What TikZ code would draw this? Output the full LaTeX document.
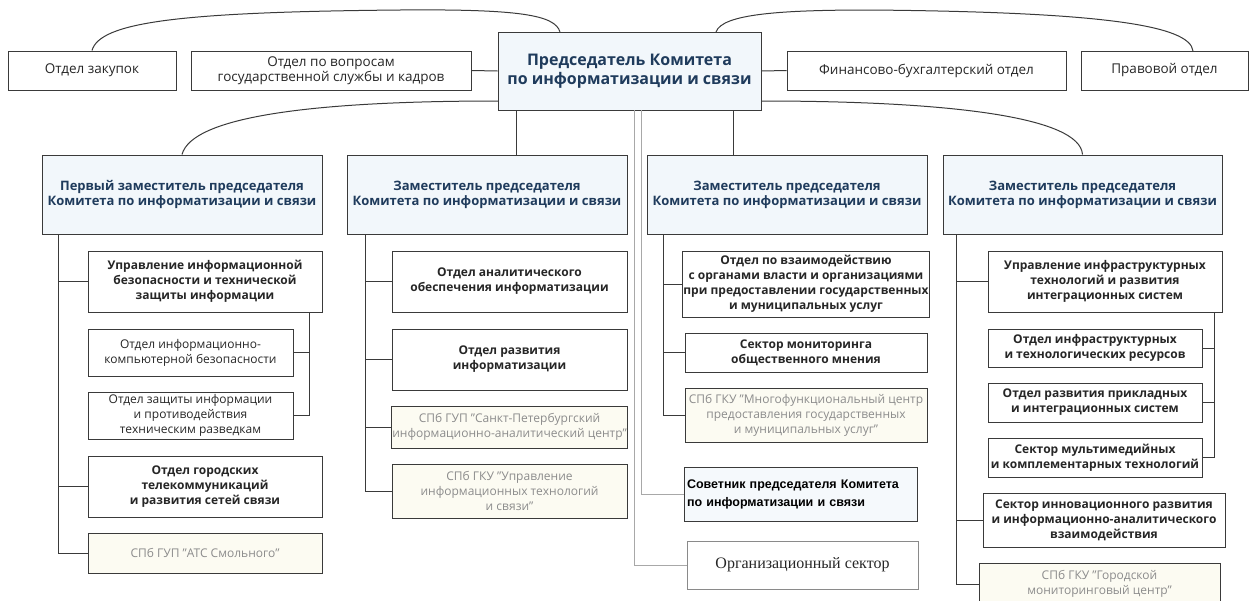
\documentclass[tikz,border=0pt]{standalone}
\usepackage{fontspec}
\setmainfont{Open Sans}
\newfontfamily\arialfont{Liberation Sans}
\newfontfamily\timesfont{Liberation Serif}
\definecolor{boxline}{HTML}{3A3A3A}
\definecolor{linkc}{HTML}{3A3A3A}
\definecolor{greyc}{HTML}{A8A8A8}
\definecolor{headfill}{HTML}{F2F7FB}
\definecolor{headtext}{HTML}{1F3B5C}
\definecolor{gupfill}{HTML}{FCFBF2}
\definecolor{guptext}{HTML}{8C8C8C}
\definecolor{sovfill}{HTML}{F5F9FC}
\definecolor{orgline}{HTML}{8A8A8A}
\definecolor{boxtext}{HTML}{262626}

\begin{document}
\begin{tikzpicture}[x=1pt,y=-1pt,
  box/.style={draw=boxline,text=boxtext,line width=1pt,align=center,inner sep=1pt,font=\fontsize{12}{15}\selectfont},
  bbox/.style={box,font=\fontsize{12}{15}\selectfont\bfseries},
  topbox/.style={box,minimum height=39pt,font=\fontsize{13.5}{15}\selectfont},
  headbox/.style={box,fill=headfill,text=headtext,minimum width=280pt,minimum height=79pt,font=\fontsize{13}{15}\selectfont\bfseries},
  gupbox/.style={box,fill=gupfill,text=guptext},
  link/.style={draw=linkc,line width=1pt},
  greyline/.style={draw=greyc,line width=1pt}]
\useasboundingbox (0,0) rectangle (1249,600);

% top row
\node[topbox,minimum width=168pt] (zak) at (92,70.5) {Отдел закупок};
\node[topbox,minimum width=280pt] (kadr) at (331,70.5) {Отдел по вопросам\\государственной службы и кадров};
\node[box,fill=headfill,text=headtext,minimum width=263pt,minimum height=78pt,font=\fontsize{16}{18.5}\selectfont\bfseries] (pred) at (629.5,71) {Председатель Комитета\\по информатизации и связи};
\node[topbox,minimum width=279pt] (fin) at (926.5,70.5) {Финансово-бухгалтерский отдел};
\node[topbox,minimum width=167pt] (prav) at (1164.5,70.5) {Правовой отдел};

% deputies
\node[headbox] (zam1) at (182,194.5) {Первый заместитель председателя\\Комитета по информатизации и связи};
\node[headbox] (zam2) at (487,194.5) {Заместитель председателя\\Комитета по информатизации и связи};
\node[headbox] (zam3) at (787,194.5) {Заместитель председателя\\Комитета по информатизации и связи};
\node[headbox,minimum width=279pt] (zam4) at (1082.5,194.5) {Заместитель председателя\\Комитета по информатизации и связи};

% column 1
\node[bbox,minimum width=234pt,minimum height=61pt] (upr1) at (205,281.5) {Управление информационной\\безопасности и технической\\защиты информации};
\node[box,minimum width=205pt,minimum height=47pt] (ikb) at (190.5,352.5) {Отдел информационно-\\компьютерной безопасности};
\node[box,minimum width=205pt,minimum height=47pt] (zti) at (190.5,415.5) {Отдел защиты информации\\и противодействия\\техническим разведкам};
\node[bbox,minimum width=234pt,minimum height=61pt] (tel) at (205,486.5) {Отдел городских\\телекоммуникаций\\и развития сетей связи};
\node[gupbox,minimum width=234pt,minimum height=40pt] (ats) at (205,553) {СПб ГУП "АТС Смольного"};

% column 2
\node[bbox,minimum width=235pt,minimum height=61pt] (aoi) at (509.5,281.5) {Отдел аналитического\\обеспечения информатизации};
\node[bbox,minimum width=235pt,minimum height=61pt] (ori) at (509.5,359.5) {Отдел развития\\информатизации};
\node[gupbox,minimum width=235pt,minimum height=42pt] (iac) at (509.5,427) {СПб ГУП "Санкт-Петербургский\\информационно-аналитический центр"};
\node[gupbox,minimum width=235pt,minimum height=54pt] (uit) at (509.5,491) {СПб ГКУ "Управление\\информационных технологий\\и связи"};

% column 3
\node[bbox,minimum width=242pt,minimum height=66pt] (vzo) at (806,284) {Отдел по взаимодействию\\с органами власти и организациями\\при предоставлении государственных\\и муниципальных услуг};
\node[bbox,minimum width=242pt,minimum height=39pt] (mon) at (806,352.5) {Сектор мониторинга\\общественного мнения};
\node[gupbox,minimum width=242pt,minimum height=54pt] (mfc) at (806,415) {СПб ГКУ "Многофункциональный центр\\предоставления государственных\\и муниципальных услуг"};
\node[box,fill=sovfill,text=black,align=left,inner sep=3pt,text width=227pt,minimum height=54pt,font=\arialfont\fontsize{12.5}{18}\selectfont\bfseries] (sov) at (800.5,494) {Советник председателя Комитета\\по информатизации и связи};
\node[box,draw=orgline,minimum width=231pt,minimum height=48pt,font=\timesfont\fontsize{16}{18}\selectfont] (org) at (802.5,565) {Организационный сектор};

% column 4
\node[bbox,minimum width=234pt,minimum height=61pt] (upr4) at (1105,281.5) {Управление инфраструктурных\\технологий и развития\\интеграционных систем};
\node[bbox,minimum width=214pt,minimum height=38pt] (itr) at (1095,348) {Отдел инфраструктурных\\и технологических ресурсов};
\node[bbox,minimum width=214pt,minimum height=39pt] (pis) at (1095,402.5) {Отдел развития прикладных\\и интеграционных систем};
\node[bbox,minimum width=214pt,minimum height=39pt] (mkt) at (1095,457.5) {Сектор мультимедийных\\и комплементарных технологий};
\node[bbox,minimum width=242pt,minimum height=54pt] (inn) at (1104,520) {Сектор инновационного развития\\и информационно-аналитического\\взаимодействия};
\node[gupbox,minimum width=241pt,minimum height=42pt] (gmc) at (1099.5,584) {СПб ГКУ "Городской\\мониторинговый центр"};

% connectors, top
\coordinate (pl) at (560,32);
\coordinate (pr) at (716,32);
\coordinate (pravt) at (1193,51);
\coordinate (pbl) at (498,101);
\coordinate (pbr) at (761,101);
\coordinate (v2) at (516,110);
\coordinate (v3) at (733,110);
\draw[link] (zak.north) .. controls (100,22) and (180,12) .. (400,10) .. controls (520,9) and (555,15) .. (pl);
\draw[link] (pr) .. controls (722,14) and (780,10) .. (870,10) .. controls (1100,12) and (1190,25) .. (pravt);
\draw[link] (kadr.east) -- (pred.west);
\draw[link] (pred.east) -- (fin.west);
\draw[link] (pbl) .. controls (310,101) and (192,117) .. (zam1.north);
\draw[link] (pbr) .. controls (950,101) and (1080,117) .. (zam4.north);
\draw[link] (v2) -- (v2 |- zam2.north);
\draw[link] (v3) -- (v3 |- zam3.north);

% connectors, column 1
\coordinate (t1) at (58,234);
\coordinate (s1) at (309,312);
\draw[link] (t1) |- (ats.west);
\draw[link] (t1 |- upr1.west) -- (upr1.west);
\draw[link] (t1 |- tel.west) -- (tel.west);
\draw[link] (s1) |- (zti.east);
\draw[link] (s1 |- ikb.east) -- (ikb.east);

% connectors, column 2
\coordinate (t2) at (365,234);
\draw[link] (t2) |- (uit.west);
\draw[link] (t2 |- aoi.west) -- (aoi.west);
\draw[link] (t2 |- ori.west) -- (ori.west);
\draw[link] (t2 |- iac.west) -- (iac.west);

% connectors, column 3
\coordinate (t3) at (663,234);
\draw[link] (t3) |- (mfc.west);
\draw[link] (t3 |- vzo.west) -- (vzo.west);
\draw[link] (t3 |- mon.west) -- (mon.west);
\coordinate (g1) at (634,110);
\coordinate (g2) at (641,110);
\draw[greyline] (g1) |- (org.west);
\draw[greyline] (g2) |- (sov.west);

% connectors, column 4
\coordinate (t4) at (956,234);
\coordinate (s4) at (1214,312);
\draw[link] (t4) |- (gmc.west);
\draw[link] (t4 |- upr4.west) -- (upr4.west);
\draw[link] (t4 |- inn.west) -- (inn.west);
\draw[link] (s4) |- (mkt.east);
\draw[link] (s4 |- itr.east) -- (itr.east);
\draw[link] (s4 |- pis.east) -- (pis.east);
\end{tikzpicture}
\end{document}
